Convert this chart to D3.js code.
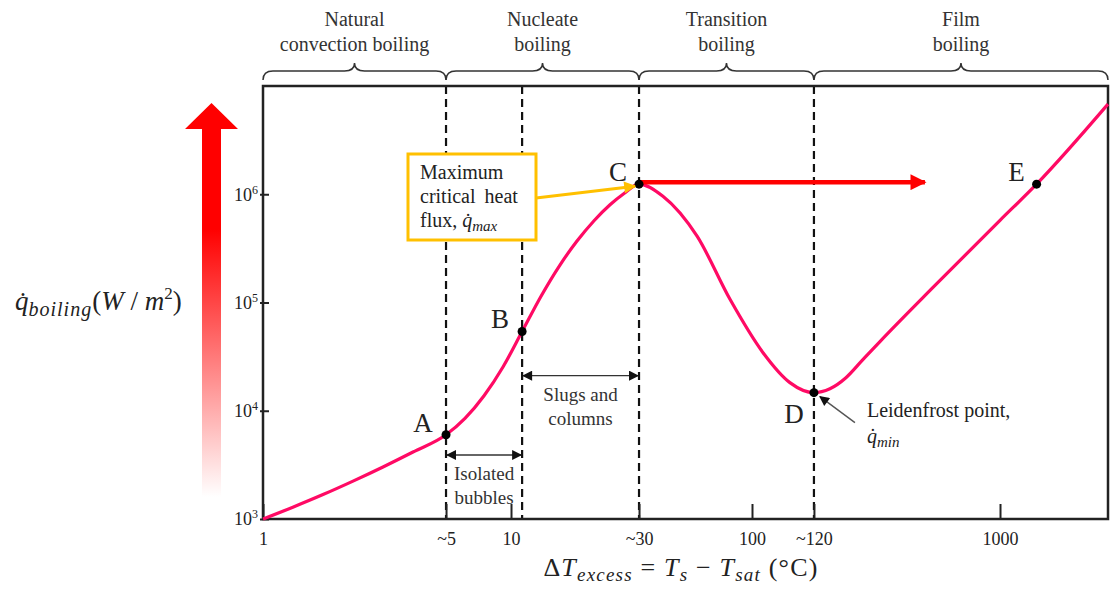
<!DOCTYPE html>
<html>
<head>
<meta charset="utf-8">
<script src="https://cdn.jsdelivr.net/npm/d3@7"></script>
<style>
  html, body { margin: 0; padding: 0; background: #fff; }
  svg { display: block; }
  svg text { font-family: "Liberation Serif", "Times New Roman", "DejaVu Serif", serif !important; fill: #222; }
</style>
</head>
<body>
<svg id="chart" width="1112" height="590"></svg>
<script>
// Boiling regimes along the excess-temperature axis
const regimeNames = [["Natural", "convection boiling"], ["Nucleate", "boiling"], ["Transition", "boiling"], ["Film", "boiling"]];
const regimeBounds = [1, 5, 30, 120, 2700];

// Boiling curve: excess temperature (°C) and heat flux (W/m²)
const curveDeltaT = [1, 1.30, 1.695, 2.207, 2.873, 3.74, 5, 6.12, 7.50, 9.18, 11, 12.94, 15.22, 17.62, 20.39, 23.39, 26.38, 30,
                     38.7, 55.7, 79.1, 103.3, 111.8, 120, 144, 172.8, 207.4, 254.6, 466, 1000, 1400, 2700];
const curveFlux   = [1000, 1286, 1682, 2239, 3024, 4155, 6000, 8505, 13770, 25390, 54000, 114400, 222000, 369500, 569600, 799500, 1017000, 1240000,
                     960000, 410000, 107000, 34400, 18200, 14700, 15990, 20210, 29040, 43540, 137700, 574500, 1240000, 6800000];

// Labelled points on the curve
const pointLabels = ["A", "B", "C", "D", "E"];
const pointDeltaT = [5, 11, 30, 120, 1400];
const pointFlux   = [6000, 54000, 1240000, 14700, 1240000];

// Regime boundaries drawn as dashed lines
const boundaryDeltaT = [5, 11, 30, 120];

// Axis ticks
const xTickValues = [1, 5, 10, 30, 100, 120, 1000];
const xTickLabels = ["1", "~5", "10", "~30", "100", "~120", "1000"];
const yTickValues = [1e3, 1e4, 1e5, 1e6];
const yTickExponents = ["3", "4", "5", "6"];

// Annotation anchors (ΔT, flux)
const bubblesArrow = { from: 5, to: 11, flux: 3900 };
const slugsArrow = { from: 11, to: 30, flux: 21100 };
const maxArrowEnd = 425;

// ---------- layout ----------
const FONT = "'Liberation Serif', 'Times New Roman', 'DejaVu Serif', serif";
const svg = d3.select("#chart").attr("font-family", FONT);
const plot = { left: 263, right: 1108, top: 86, bottom: 519 };
// schematic axis: each labelled temperature gets its own log segment
const axisStops = [0, 0.2166, 0.2935, 0.445, 0.5787, 0.652, 0.8722, 1];
const xDomain = [1, 5, 10, 30, 100, 120, 1000, 2700];

const x = d3.scaleLog()
  .domain(xDomain)
  .range(axisStops.map(f => plot.left + f * (plot.right - plot.left)));
const y = d3.scaleLog().domain([1e3, 1e7]).range([plot.bottom, plot.top]);

const defs = svg.append("defs");

// gradient for the heat-flux arrow on the left
const grad = defs.append("linearGradient")
  .attr("id", "heatGrad").attr("gradientUnits", "userSpaceOnUse")
  .attr("x1", 0).attr("y1", 497).attr("x2", 0).attr("y2", 103);
grad.append("stop").attr("offset", 0).attr("stop-color", "#ffffff");
grad.append("stop").attr("offset", 0.68).attr("stop-color", "#ff0000");
grad.append("stop").attr("offset", 1).attr("stop-color", "#ff0000");

function marker(id, color, w, h) {
  defs.append("marker")
    .attr("id", id).attr("viewBox", "0 0 10 10")
    .attr("refX", 9).attr("refY", 5)
    .attr("markerWidth", w).attr("markerHeight", h)
    .attr("markerUnits", "userSpaceOnUse")
    .attr("orient", "auto-start-reverse")
    .append("path").attr("d", "M0,0 L10,5 L0,10 Z").attr("fill", color);
}
marker("arrBlack", "#111", 12, 10);
marker("arrOrange", "#ffc000", 14, 12);
marker("arrRed", "#ff0000", 18, 16);

function label(sel) {
  return sel.append("text").style("font-family", FONT);
}

// ---------- heat-flux arrow ----------
svg.append("path")
  .attr("d", "M202,497 L202,129 L185,129 L211.5,103 L238,129 L221,129 L221,497 Z")
  .attr("fill", "url(#heatGrad)");

// ---------- regime braces and names ----------
const braceY = 71;
regimeNames.forEach((lines, i) => {
  const x0 = x(regimeBounds[i]), x1 = Math.min(x(regimeBounds[i + 1]), plot.right);
  const m = (x0 + x1) / 2, r = 10;
  const d = `M${x0},${braceY + 9} Q${x0},${braceY} ${x0 + r},${braceY} L${m - r},${braceY} ` +
            `Q${m},${braceY} ${m},${braceY - 8} Q${m},${braceY} ${m + r},${braceY} ` +
            `L${x1 - r},${braceY} Q${x1},${braceY} ${x1},${braceY + 9}`;
  svg.append("path").attr("d", d).attr("fill", "none").attr("stroke", "#333").attr("stroke-width", 1.5);
  lines.forEach((t, j) => {
    label(svg).attr("x", m).attr("y", 26 + j * 25)
      .attr("text-anchor", "middle").style("font-size", "20px").style("fill", "#333").text(t);
  });
});

// ---------- dashed regime boundaries ----------
svg.selectAll("line.bound").data(boundaryDeltaT).enter().append("line")
  .attr("class", "bound")
  .attr("x1", d => x(d)).attr("x2", d => x(d))
  .attr("y1", plot.top).attr("y2", plot.bottom)
  .attr("stroke", "#111").attr("stroke-width", 2.2).attr("stroke-dasharray", "8,5");

// ---------- axes ----------
const xAxis = svg.append("g")
  .attr("transform", `translate(0,${plot.bottom})`)
  .call(d3.axisBottom(x).tickValues(xTickValues)
    .tickFormat((d, i) => xTickLabels[i]).tickSize(-15).tickPadding(13));
xAxis.attr("font-family", FONT);
xAxis.select(".domain").remove();
xAxis.selectAll(".tick line").attr("stroke", "#222").attr("stroke-width", 2);
xAxis.selectAll(".tick text").style("font-size", "18px").style("font-family", FONT).attr("fill", "#222");

const yAxis = svg.append("g")
  .attr("transform", `translate(${plot.left},0)`)
  .call(d3.axisLeft(y).tickValues(yTickValues).tickSize(-6).tickPadding(5).tickFormat(""));
yAxis.attr("font-family", FONT);
yAxis.select(".domain").remove();
yAxis.selectAll(".tick line").attr("stroke", "#222").attr("stroke-width", 2).attr("x1", -3);
yAxis.selectAll(".tick text").each(function (d, i) {
  const t = d3.select(this).text(null)
    .style("font-size", "18px").style("font-family", FONT).attr("fill", "#222");
  t.append("tspan").text("10");
  t.append("tspan").attr("dy", -7).style("font-size", "12px").text(yTickExponents[i]);
});

// plot frame
svg.append("rect")
  .attr("x", plot.left).attr("y", plot.top)
  .attr("width", plot.right - plot.left).attr("height", plot.bottom - plot.top)
  .attr("fill", "none").attr("stroke", "#222").attr("stroke-width", 2.5);

// ---------- boiling curve ----------
const curvePts = curveDeltaT.map((t, i) => [x(t), y(curveFlux[i])]);
svg.append("path")
  .attr("d", d3.line().curve(d3.curveMonotoneX)(curvePts))
  .attr("fill", "none").attr("stroke", "#ff0a64").attr("stroke-width", 3.2)
  .attr("stroke-linejoin", "round");

// maximum heat flux carried on (red arrow from C)
svg.append("line")
  .attr("x1", x(pointDeltaT[2])).attr("y1", y(pointFlux[2]) - 2)
  .attr("x2", x(maxArrowEnd)).attr("y2", y(pointFlux[2]) - 2)
  .attr("stroke", "#ff0000").attr("stroke-width", 4.5)
  .attr("marker-end", "url(#arrRed)");

// points and letters
const letterOffsets = [[-23, -3], [-22, -3], [-21, -3], [-20, 30], [-20, -3]];
pointLabels.forEach((lab, i) => {
  const px = x(pointDeltaT[i]), py = y(pointFlux[i]);
  svg.append("circle").attr("cx", px).attr("cy", py).attr("r", 4.5).attr("fill", "#000");
  label(svg).attr("x", px + letterOffsets[i][0]).attr("y", py + letterOffsets[i][1])
    .attr("text-anchor", "middle").style("font-size", "27px").text(lab);
});

// ---------- range arrows ----------
function rangeArrow(a, lines) {
  const x0 = x(a.from) + 1, x1 = x(a.to) - 1, yy = y(a.flux);
  svg.append("line").attr("x1", x0).attr("x2", x1).attr("y1", yy).attr("y2", yy)
    .attr("stroke", "#333").attr("stroke-width", 1.4)
    .attr("marker-start", "url(#arrBlack)").attr("marker-end", "url(#arrBlack)");
  lines.forEach((t, j) => {
    label(svg).attr("x", (x0 + x1) / 2).attr("y", yy + 25 + j * 24)
      .attr("text-anchor", "middle").style("font-size", "19px").style("fill", "#333").text(t);
  });
}
rangeArrow(bubblesArrow, ["Isolated", "bubbles"]);
rangeArrow(slugsArrow, ["Slugs and", "columns"]);

// ---------- critical heat flux callout ----------
const boxX = 408, boxY = 154, boxW = 128, boxH = 86;
svg.append("rect").attr("x", boxX).attr("y", boxY).attr("width", boxW).attr("height", boxH)
  .attr("fill", "#fff").attr("stroke", "#ffc000").attr("stroke-width", 3);
svg.append("line")
  .attr("x1", boxX + boxW).attr("y1", boxY + 44)
  .attr("x2", x(pointDeltaT[2]) - 4).attr("y2", y(pointFlux[2]) + 2)
  .attr("stroke", "#ffc000").attr("stroke-width", 3).attr("marker-end", "url(#arrOrange)");
label(svg).attr("x", boxX + 12).attr("y", boxY + 25).style("font-size", "20px").text("Maximum");
label(svg).attr("x", boxX + 12).attr("y", boxY + 49).style("font-size", "20px")
  .attr("word-spacing", "4px").text("critical heat");
const fl = label(svg).attr("x", boxX + 12).attr("y", boxY + 73).style("font-size", "20px");
fl.append("tspan").text("flux, ");
fl.append("tspan").style("font-style", "italic").text("q\u0307");
fl.append("tspan").style("font-style", "italic").style("font-size", "15px").attr("dy", 4).text("max");

// ---------- Leidenfrost callout ----------
const dx = x(pointDeltaT[3]), dy = y(pointFlux[3]);
svg.append("line").attr("x1", dx + 41).attr("y1", dy + 30).attr("x2", dx + 6).attr("y2", dy + 4)
  .attr("stroke", "#555").attr("stroke-width", 1.4).attr("marker-end", "url(#arrBlack)");
label(svg).attr("x", dx + 53).attr("y", dy + 24).style("font-size", "20px").text("Leidenfrost point,");
const lm = label(svg).attr("x", dx + 53).attr("y", dy + 50).style("font-size", "20px");
lm.append("tspan").style("font-style", "italic").text("q\u0307");
lm.append("tspan").style("font-style", "italic").style("font-size", "15px").attr("dy", 4).text("min");

// ---------- axis titles ----------
const xt = label(svg).attr("x", 681).attr("y", 576).attr("text-anchor", "middle")
  .style("font-size", "26px").style("letter-spacing", "1.2px");
xt.append("tspan").text("Δ");
xt.append("tspan").style("font-style", "italic").text("T");
xt.append("tspan").style("font-style", "italic").style("font-size", "19px").attr("dy", 5).text("excess");
xt.append("tspan").attr("dy", -5).text(" = ");
xt.append("tspan").style("font-style", "italic").text("T");
xt.append("tspan").style("font-style", "italic").style("font-size", "19px").attr("dy", 5).text("s");
xt.append("tspan").attr("dy", -5).text(" \u2212 ");
xt.append("tspan").style("font-style", "italic").text("T");
xt.append("tspan").style("font-style", "italic").style("font-size", "19px").attr("dy", 5).text("sat");
xt.append("tspan").attr("dy", -5).text(" (°C)");

const yt = label(svg).attr("x", 15).attr("y", 310).style("font-size", "27px");
yt.append("tspan").style("font-style", "italic").text("q\u0307");
yt.append("tspan").style("font-style", "italic").style("font-size", "20px").style("letter-spacing", "1px")
  .attr("dy", 6).text("boiling");
yt.append("tspan").attr("dy", -6).text("(");
yt.append("tspan").style("font-style", "italic").text("W");
yt.append("tspan").text(" / ");
yt.append("tspan").style("font-style", "italic").text("m");
yt.append("tspan").style("font-size", "17px").attr("dy", -11).text("2");
yt.append("tspan").attr("dy", 11).text(")");
</script>
</body>
</html>
